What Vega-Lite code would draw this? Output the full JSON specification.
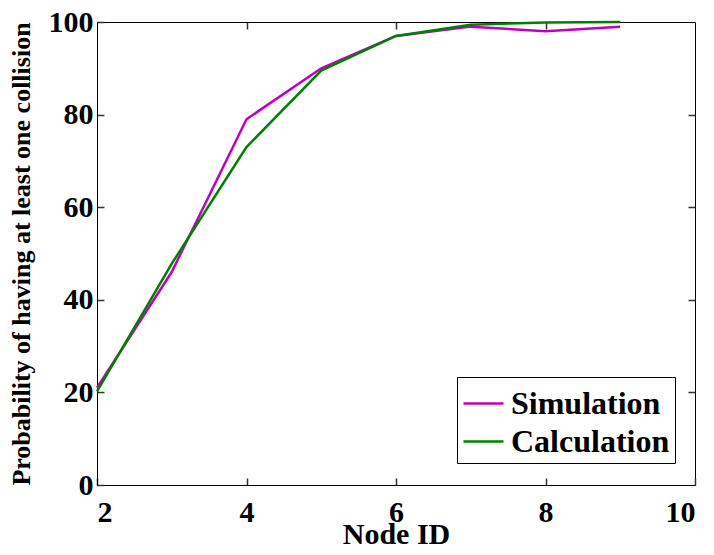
{
  "$schema": "https://vega.github.io/schema/vega-lite/v6.json",
  "width": 598,
  "height": 463,
  "autosize": {"type": "none"},
  "padding": {"left": 97, "top": 22, "right": 19, "bottom": 70},
  "background": "white",
  "data": {
    "values": [
      {"node": 2, "prob": 21, "series": "Simulation"},
      {"node": 3, "prob": 46, "series": "Simulation"},
      {"node": 4, "prob": 79, "series": "Simulation"},
      {"node": 5, "prob": 90, "series": "Simulation"},
      {"node": 6, "prob": 97, "series": "Simulation"},
      {"node": 7, "prob": 99, "series": "Simulation"},
      {"node": 8, "prob": 98, "series": "Simulation"},
      {"node": 9, "prob": 99, "series": "Simulation"},
      {"node": 2, "prob": 20.2, "series": "Calculation"},
      {"node": 3, "prob": 47.8, "series": "Calculation"},
      {"node": 4, "prob": 73, "series": "Calculation"},
      {"node": 5, "prob": 89.5, "series": "Calculation"},
      {"node": 6, "prob": 97, "series": "Calculation"},
      {"node": 7, "prob": 99.4, "series": "Calculation"},
      {"node": 8, "prob": 99.9, "series": "Calculation"},
      {"node": 9, "prob": 100, "series": "Calculation"}
    ]
  },
  "layer": [
    {
      "mark": {"type": "line", "strokeWidth": 2.5, "clip": false},
      "encoding": {
        "x": {
          "field": "node", "type": "quantitative",
          "scale": {"domain": [2, 10], "nice": false, "zero": false},
          "axis": {"orient": "bottom", "values": [2, 4, 6, 8, 10], "ticks": true, "tickSize": -7, "tickColor": "#333", "tickWidth": 1.5, "title": "Node ID", "titleFontSize": 30, "titlePadding": -8, "labelPadding": 19}
        },
        "y": {
          "field": "prob", "type": "quantitative",
          "scale": {"domain": [0, 100], "nice": false},
          "axis": {"orient": "left", "values": [0, 20, 40, 60, 80, 100], "ticks": true, "tickSize": -7, "tickColor": "#333", "tickWidth": 1.5, "title": "Probability of having at least one collision", "titleFontSize": 26, "titlePadding": 14, "labelPadding": 11}
        },
        "color": {
          "field": "series", "type": "nominal",
          "scale": {"domain": ["Simulation", "Calculation"], "range": ["#C000C0", "#008000"]},
          "legend": {
            "title": null, "orient": "none", "legendX": 360, "legendY": 355,
            "strokeColor": "black", "fillColor": "white", "padding": 5,
            "symbolType": "stroke", "symbolSize": 1600, "symbolStrokeWidth": 2.5,
            "labelFont": "Liberation Serif", "labelFontWeight": "bold", "labelFontSize": 32,
            "labelColor": "black", "labelOffset": 6, "rowPadding": -2
          }
        },
        "order": {"field": "node", "type": "quantitative"}
      }
    },
    {
      "mark": {"type": "line", "opacity": 0},
      "encoding": {
        "x": {"field": "node", "type": "quantitative", "axis": {"orient": "top", "values": [4, 6, 8], "ticks": true, "tickSize": -7, "tickColor": "#333", "tickWidth": 1.5, "labels": false, "title": null, "domain": false}},
        "y": {"field": "prob", "type": "quantitative", "axis": {"orient": "right", "values": [20, 40, 60, 80], "ticks": true, "tickSize": -7, "tickColor": "#333", "tickWidth": 1.5, "labels": false, "title": null, "domain": false}},
        "detail": {"field": "series"}
      }
    }
  ],
  "resolve": {"axis": {"x": "independent", "y": "independent"}},
  "config": {
    "view": {"stroke": "black", "strokeWidth": 1},
    "axis": {
      "grid": false,
      "domainColor": "black",
      "domainWidth": 1,
      "labelFont": "Liberation Serif",
      "labelFontWeight": "bold",
      "labelFontSize": 30,
      "labelColor": "black",
      "titleFont": "Liberation Serif",
      "titleFontWeight": "bold",
      "titleColor": "black"
    }
  }
}
